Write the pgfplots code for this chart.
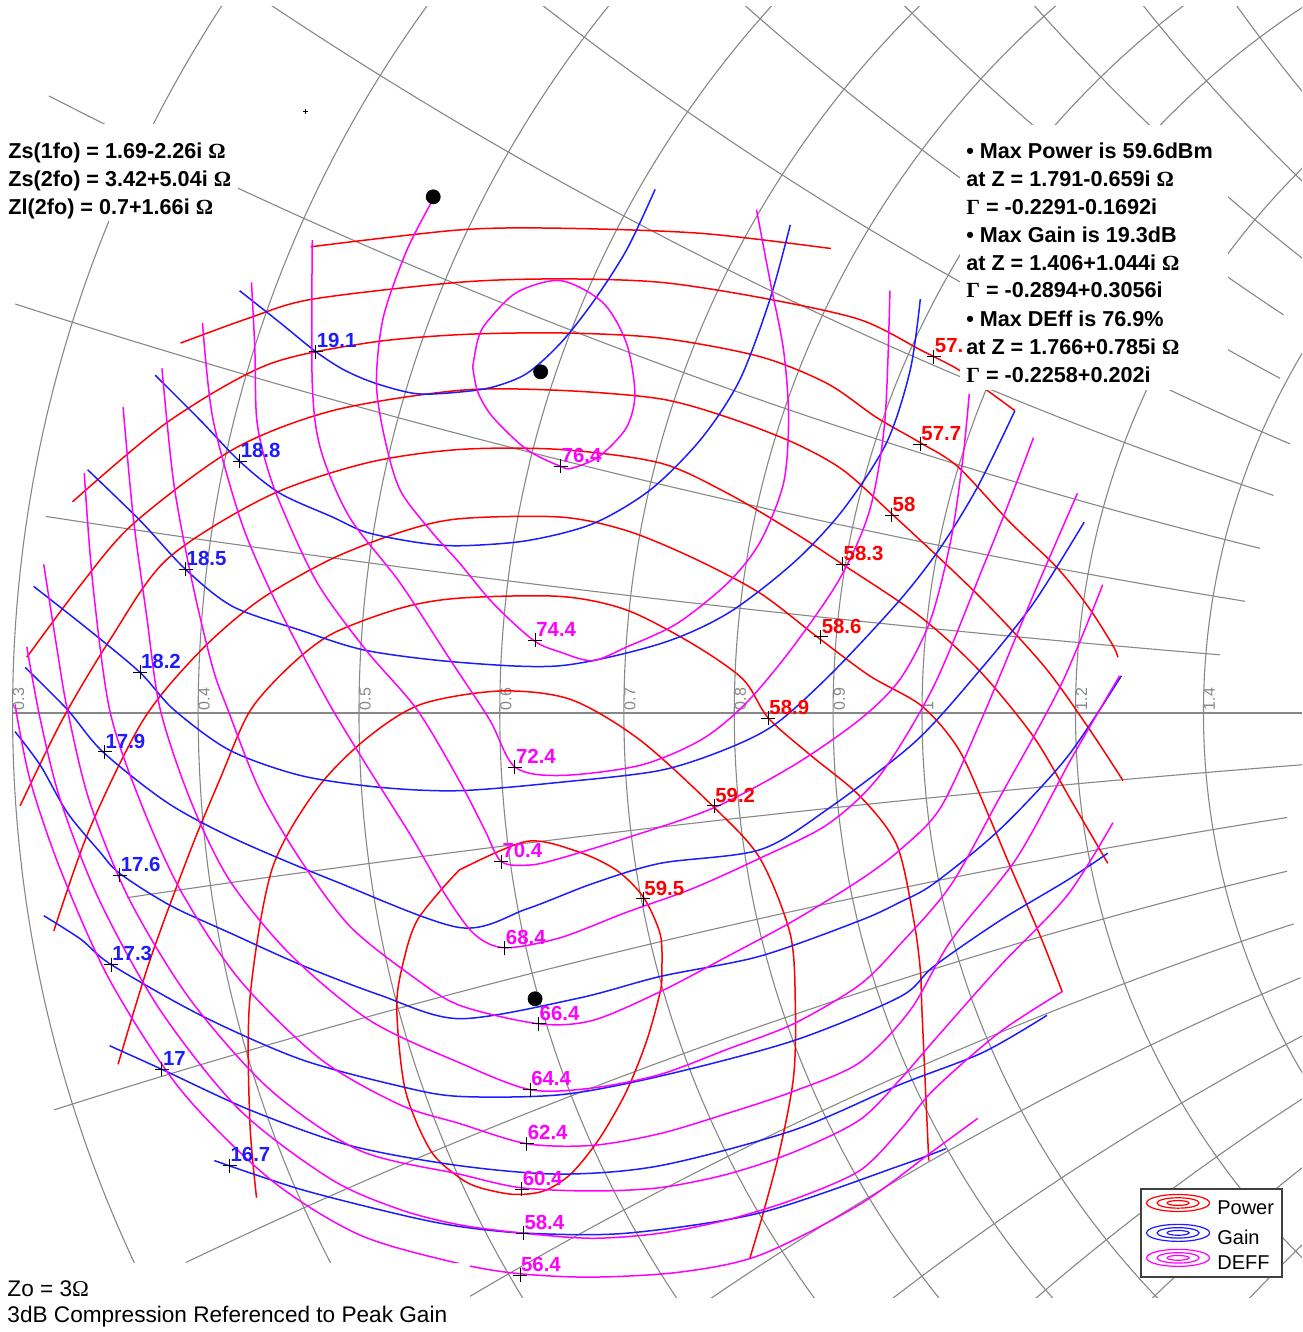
\documentclass[border=0pt]{standalone}
\usepackage{pgfplots}
\pgfplotsset{compat=1.18}
\usepackage{fontspec}
\setmainfont{Liberation Sans}
\newfontfamily\greekserif{Liberation Serif}

\definecolor{pwrred}{RGB}{255,0,0}
\definecolor{gainblue}{RGB}{28,28,255}
\definecolor{deffmag}{RGB}{255,0,255}
\definecolor{gridgray}{RGB}{135,135,135}

\tikzset{gridline/.style={gridgray, line width=0.55pt}}

% constant-reactance arc above the real axis: centre (1,#1), x=#2, from Re(Gamma)=#3 to #4
\newcommand\xarcU[4]{%
  \draw[gridline] (axis cs:1,#1) ++({360-acos((#3-1)*#2)}:{844.5pt*#1})
    arc[start angle={360-acos((#3-1)*#2)}, end angle={360-acos((#4-1)*#2)}, radius={844.5pt*#1}];}
% constant-reactance arc below the real axis: centre (1,-#1), |x|=#2
\newcommand\xarcL[4]{%
  \draw[gridline] (axis cs:1,-#1) ++({acos((#3-1)*#2)}:{844.5pt*#1})
    arc[start angle={acos((#3-1)*#2)}, end angle={acos((#4-1)*#2)}, radius={844.5pt*#1}];}
% constant-resistance circle: centre r/(1+r), radius 1/(1+r) (in pt)
\newcommand\rcirc[2]{\draw[gridline] (axis cs:#1,0) circle[radius=#2];}
\newcommand\rlab[2]{\node[rotate=90, anchor=north west, inner sep=0pt, text=gridgray,
  font=\fontsize{8}{9}\selectfont] at (axis cs:#1,0.0015) {#2};}
% legend symbol: three concentric ellipses
\newcommand\legicon[2]{%
  \draw[#2, line width=0.6pt] (axis cs:0.1516,#1) ellipse[x radius=15.75pt, y radius=4.25pt];
  \draw[#2, line width=0.6pt] (axis cs:0.1516,#1) ellipse[x radius=10.5pt, y radius=2.6pt];
  \draw[#2, line width=0.6pt] (axis cs:0.1516,#1) ellipse[x radius=5.5pt, y radius=1.2pt];}
\newcommand\boxtext[3]{\node[anchor=base west, inner sep=0pt,
  font=\bfseries\fontsize{10.8}{13}\selectfont] at (axis cs:#1,#2) {#3};}

\begin{document}
\begin{tikzpicture}
\path[use as bounding box] (0,0) rectangle (651pt,666pt);
\begin{axis}[
  at={(0,0)}, anchor=south west,
  scale only axis, width=651pt, height=666pt,
  xmin=-0.54589, xmax=0.22498, ymin=-0.36649, ymax=0.42214,
  hide axis,
  pw/.style={pwrred, line width=0.75pt, smooth, no markers},
  ga/.style={gainblue, line width=0.75pt, smooth, no markers},
  de/.style={deffmag, line width=0.75pt, smooth, no markers},
  lab/.style={only marks, mark=+, mark size=3.5pt,
    mark options={black, line width=0.5pt, solid},
    nodes near coords, point meta=explicit symbolic,
    every node near coord/.style={anchor=south west, inner sep=0pt,
      xshift=0.3pt, yshift=1.5pt, font=\bfseries\fontsize{10.2}{12}\selectfont, text=#1}},
]

% ---------------- Smith chart grid ----------------
\begin{scope}
\clip (axis cs:-0.546,0.4180) rectangle (axis cs:0.226,-0.3458);
\rcirc{0.230769}{649.6pt}
\rcirc{0.285714}{603.2pt}
\rcirc{0.333333}{563.0pt}
\rcirc{0.375}{527.8pt}
\rcirc{0.411765}{496.8pt}
\rcirc{0.444444}{469.2pt}
\rcirc{0.473684}{444.5pt}
\rcirc{0.5}{422.25pt}
\rcirc{0.545455}{383.9pt}
\rcirc{0.583333}{351.9pt}
\draw[gridline] (axis cs:-0.5385,0) -- (axis cs:0.226,0);
\xarcU{10}{0.1}{-0.519}{0.176}
\xarcU{5}{0.2}{-0.537}{0.191}
\xarcU{3.33333}{0.3}{-0.517}{0.200}
\xarcU{2.5}{0.4}{-0.40}{0.208}
\xarcU{2}{0.5}{-0.25}{0.218}
\xarcU{1.66667}{0.6}{-0.13}{0.212}
\xarcU{1.42857}{0.7}{-0.03}{0.214}
\xarcU{1.25}{0.8}{0.05}{0.225}
\xarcU{1.11111}{0.9}{0.115}{0.225}
\xarcU{1}{1.0}{0.17}{0.225}
\xarcL{10}{0.1}{-0.471}{0.225}
\xarcL{5}{0.2}{-0.514}{0.216}
\xarcL{3.33333}{0.3}{-0.436}{0.216}
\xarcL{2.5}{0.4}{-0.31}{0.220}
\xarcL{2}{0.5}{-0.16}{0.224}
\xarcL{1.66667}{0.6}{-0.05}{0.225}
\xarcL{1.42857}{0.7}{0.04}{0.225}
\xarcL{1.25}{0.8}{0.11}{0.225}
\xarcL{1.11111}{0.9}{0.17}{0.225}
\end{scope}
\rlab{-0.5385}{0.3}
\rlab{-0.4286}{0.4}
\rlab{-0.3333}{0.5}
\rlab{-0.2500}{0.6}
\rlab{-0.1765}{0.7}
\rlab{-0.1111}{0.8}
\rlab{-0.0526}{0.9}
\rlab{0.0}{1}
\rlab{0.0909}{1.2}
\rlab{0.1667}{1.4}

% ---------------- Power contours (dBm) ----------------
\addplot[pw] coordinates {(-0.362,0.276) (-0.274,0.286) (-0.214,0.287) (-0.131,0.284) (-0.054,0.275)};
\addplot[pw] coordinates {(-0.439,0.219) (-0.398,0.234) (-0.361,0.245) (-0.274,0.255) (-0.214,0.257) (-0.155,0.255) (-0.096,0.246) (-0.037,0.233) (-0.001,0.215) (0.007,0.211) (0.022,0.203) (0.040,0.190) (0.055,0.179)};
\addplot[pw] coordinates {(-0.503,0.125) (-0.447,0.172) (-0.388,0.206) (-0.329,0.219) (-0.274,0.224) (-0.214,0.225) (-0.155,0.222) (-0.096,0.211) (-0.056,0.195) (-0.027,0.175) (-0.001,0.160) (0.021,0.146) (0.052,0.113) (0.080,0.086) (0.099,0.062) (0.113,0.040) (0.116,0.033)};
\addplot[pw] coordinates {(-0.530,0.033) (-0.498,0.076) (-0.467,0.112) (-0.408,0.156) (-0.349,0.179) (-0.274,0.191) (-0.214,0.191) (-0.155,0.186) (-0.115,0.175) (-0.076,0.160) (-0.047,0.144) (-0.018,0.118) (0.033,0.070) (0.072,0.028) (0.098,-0.008) (0.119,-0.040)};
\addplot[pw] coordinates {(-0.534,-0.055) (-0.509,-0.004) (-0.481,0.043) (-0.447,0.091) (-0.388,0.128) (-0.329,0.148) (-0.274,0.156) (-0.214,0.156) (-0.155,0.148) (-0.115,0.130) (-0.076,0.107) (-0.047,0.088) (-0.001,0.057) (0.034,0.025) (0.066,-0.014) (0.089,-0.053) (0.110,-0.089)};
\addplot[pw] coordinates {(-0.514,-0.129) (-0.493,-0.069) (-0.461,-0.004) (-0.427,0.037) (-0.392,0.067) (-0.350,0.091) (-0.309,0.107) (-0.274,0.115) (-0.214,0.116) (-0.175,0.108) (-0.136,0.092) (-0.096,0.071) (-0.062,0.045) (-0.031,0.022) (0.000,0.004) (0.022,-0.022) (0.040,-0.062) (0.054,-0.095) (0.070,-0.132) (0.083,-0.165)};
\addplot[pw] coordinates {(-0.476,-0.208) (-0.457,-0.146) (-0.433,-0.081) (-0.416,-0.040) (-0.398,0.001) (-0.374,0.028) (-0.349,0.047) (-0.309,0.062) (-0.274,0.068) (-0.214,0.069) (-0.175,0.061) (-0.136,0.041) (-0.106,0.020) (-0.091,-0.003) (-0.066,-0.025) (-0.037,-0.049) (-0.015,-0.078) (-0.005,-0.122) (-0.001,-0.152) (0.000,-0.177) (0.004,-0.265)};
\addplot[pw] coordinates {(-0.394,-0.287) (-0.398,-0.241) (-0.398,-0.170) (-0.385,-0.093) (-0.359,-0.046) (-0.330,-0.016) (-0.297,0.005) (-0.250,0.013) (-0.208,0.008) (-0.167,-0.016) (-0.123,-0.056) (-0.096,-0.086) (-0.078,-0.131) (-0.075,-0.173) (-0.076,-0.215) (-0.084,-0.258) (-0.094,-0.296) (-0.102,-0.323)};
\addplot[pw] coordinates {(-0.274,-0.093) (-0.234,-0.076) (-0.204,-0.082) (-0.181,-0.093) (-0.165,-0.109) (-0.155,-0.131) (-0.154,-0.152) (-0.155,-0.165) (-0.163,-0.194) (-0.175,-0.224) (-0.191,-0.252) (-0.208,-0.273) (-0.224,-0.283) (-0.242,-0.285) (-0.262,-0.281) (-0.274,-0.275) (-0.291,-0.259) (-0.306,-0.223) (-0.311,-0.173) (-0.306,-0.143) (-0.299,-0.123) (-0.285,-0.105) (-0.274,-0.093)};

% ---------------- Gain contours (dB) ----------------
\addplot[ga] coordinates {(-0.404,0.250) (-0.380,0.231) (-0.359,0.214) (-0.342,0.203) (-0.323,0.195) (-0.299,0.189) (-0.274,0.190) (-0.254,0.193) (-0.234,0.201) (-0.214,0.219) (-0.195,0.243) (-0.175,0.274) (-0.158,0.310)};
\addplot[ga] coordinates {(-0.454,0.200) (-0.427,0.173) (-0.404,0.149) (-0.380,0.130) (-0.349,0.116) (-0.329,0.107) (-0.299,0.101) (-0.274,0.099) (-0.234,0.102) (-0.195,0.112) (-0.161,0.132) (-0.131,0.162) (-0.108,0.197) (-0.090,0.245) (-0.078,0.289)};
\addplot[ga] coordinates {(-0.494,0.144) (-0.463,0.114) (-0.436,0.085) (-0.408,0.063) (-0.368,0.049) (-0.329,0.037) (-0.274,0.030) (-0.214,0.028) (-0.155,0.041) (-0.115,0.059) (-0.076,0.089) (-0.047,0.120) (-0.021,0.160) (-0.007,0.203) (-0.001,0.245)};
\addplot[ga] coordinates {(-0.526,0.075) (-0.493,0.049) (-0.463,0.024) (-0.443,0.002) (-0.410,-0.022) (-0.368,-0.037) (-0.321,-0.044) (-0.274,-0.046) (-0.214,-0.041) (-0.155,-0.034) (-0.115,-0.021) (-0.086,-0.006) (-0.052,0.025) (-0.013,0.067) (0.011,0.098) (0.033,0.134) (0.055,0.179)};
\addplot[ga] coordinates {(-0.531,0.027) (-0.506,0.002) (-0.485,-0.023) (-0.447,-0.053) (-0.408,-0.074) (-0.349,-0.099) (-0.274,-0.127) (-0.234,-0.116) (-0.195,-0.101) (-0.155,-0.089) (-0.096,-0.081) (-0.056,-0.057) (-0.004,-0.017) (0.034,0.025) (0.066,0.065) (0.096,0.113)};
\addplot[ga] coordinates {(-0.537,-0.011) (-0.522,-0.031) (-0.506,-0.059) (-0.487,-0.082) (-0.475,-0.095) (-0.445,-0.114) (-0.408,-0.131) (-0.368,-0.149) (-0.321,-0.167) (-0.274,-0.181) (-0.204,-0.169) (-0.155,-0.156) (-0.096,-0.144) (-0.037,-0.123) (-0.013,-0.112) (0.007,-0.101) (0.046,-0.069) (0.086,-0.026) (0.118,0.022)};
\addplot[ga] coordinates {(-0.520,-0.120) (-0.498,-0.134) (-0.480,-0.149) (-0.427,-0.179) (-0.368,-0.205) (-0.309,-0.221) (-0.274,-0.227) (-0.214,-0.226) (-0.155,-0.215) (-0.076,-0.194) (-0.013,-0.168) (0.007,-0.150) (0.046,-0.123) (0.086,-0.099) (0.110,-0.083)};
\addplot[ga] coordinates {(-0.481,-0.197) (-0.450,-0.211) (-0.398,-0.235) (-0.339,-0.256) (-0.274,-0.268) (-0.214,-0.273) (-0.155,-0.268) (-0.076,-0.247) (-0.013,-0.220) (0.036,-0.201) (0.074,-0.179)};
\addplot[ga] coordinates {(-0.419,-0.265) (-0.368,-0.282) (-0.309,-0.297) (-0.274,-0.304) (-0.234,-0.308) (-0.175,-0.308) (-0.096,-0.296) (-0.013,-0.268) (0.014,-0.258)};

% ---------------- Drain efficiency contours (%) ----------------
\addplot[de] coordinates {(-0.266,0.205) (-0.263,0.221) (-0.258,0.231) (-0.240,0.249) (-0.214,0.256) (-0.189,0.243) (-0.175,0.219) (-0.170,0.189) (-0.175,0.169) (-0.191,0.152) (-0.207,0.145) (-0.214,0.146) (-0.234,0.156) (-0.254,0.175) (-0.263,0.190) (-0.266,0.205)};
\addplot[de] coordinates {(-0.289,0.305) (-0.305,0.274) (-0.319,0.234) (-0.323,0.195) (-0.318,0.162) (-0.309,0.132) (-0.291,0.108) (-0.274,0.089) (-0.254,0.065) (-0.230,0.043) (-0.214,0.036) (-0.195,0.031) (-0.175,0.039) (-0.145,0.053) (-0.115,0.077) (-0.096,0.101) (-0.082,0.136) (-0.079,0.175) (-0.082,0.215) (-0.090,0.256) (-0.098,0.298)};
\addplot[de] coordinates {(-0.361,0.280) (-0.361,0.195) (-0.356,0.156) (-0.339,0.116) (-0.309,0.077) (-0.279,0.031) (-0.256,-0.004) (-0.241,-0.032) (-0.214,-0.037) (-0.167,-0.031) (-0.131,-0.016) (-0.105,0.005) (-0.078,0.037) (-0.049,0.079) (-0.031,0.120) (-0.022,0.173) (-0.019,0.250)};
\addplot[de] coordinates {(-0.397,0.255) (-0.395,0.215) (-0.394,0.175) (-0.389,0.150) (-0.380,0.124) (-0.358,0.077) (-0.329,0.037) (-0.299,0.002) (-0.274,-0.040) (-0.259,-0.069) (-0.249,-0.088) (-0.232,-0.090) (-0.214,-0.086) (-0.175,-0.074) (-0.123,-0.056) (-0.076,-0.031) (-0.037,-0.004) (-0.013,0.020) (0.005,0.055) (0.017,0.102) (0.024,0.149) (0.028,0.189)};
\addplot[de] coordinates {(-0.426,0.231) (-0.420,0.175) (-0.404,0.116) (-0.388,0.077) (-0.368,0.037) (-0.349,0.002) (-0.327,-0.034) (-0.303,-0.072) (-0.282,-0.108) (-0.265,-0.131) (-0.247,-0.139) (-0.214,-0.133) (-0.175,-0.118) (-0.136,-0.104) (-0.096,-0.086) (-0.056,-0.066) (-0.025,-0.037) (0.007,0.016) (0.036,0.086) (0.052,0.126) (0.066,0.163)};
\addplot[de] coordinates {(-0.450,0.204) (-0.443,0.136) (-0.432,0.077) (-0.420,0.027) (-0.411,0.002) (-0.392,-0.046) (-0.368,-0.087) (-0.339,-0.126) (-0.303,-0.155) (-0.274,-0.173) (-0.227,-0.184) (-0.195,-0.182) (-0.155,-0.165) (-0.115,-0.144) (-0.076,-0.123) (-0.037,-0.099) (-0.013,-0.081) (0.011,-0.056) (0.036,-0.002) (0.066,0.070) (0.092,0.130)};
\addplot[de] coordinates {(-0.473,0.181) (-0.467,0.116) (-0.459,0.057) (-0.451,0.002) (-0.433,-0.052) (-0.410,-0.099) (-0.374,-0.143) (-0.327,-0.182) (-0.274,-0.207) (-0.232,-0.223) (-0.195,-0.222) (-0.155,-0.214) (-0.115,-0.199) (-0.076,-0.184) (-0.037,-0.161) (-0.013,-0.137) (0.017,-0.102) (0.046,-0.050) (0.082,0.016) (0.107,0.076)};
\addplot[de] coordinates {(-0.496,0.142) (-0.491,0.077) (-0.481,0.002) (-0.463,-0.052) (-0.439,-0.105) (-0.404,-0.158) (-0.356,-0.205) (-0.309,-0.232) (-0.274,-0.243) (-0.234,-0.255) (-0.195,-0.256) (-0.155,-0.249) (-0.115,-0.237) (-0.076,-0.224) (-0.037,-0.207) (-0.007,-0.176) (0.017,-0.135) (0.056,-0.086) (0.089,-0.026) (0.117,0.022)};
\addplot[de] coordinates {(-0.520,0.088) (-0.512,0.037) (-0.506,0.002) (-0.493,-0.052) (-0.469,-0.111) (-0.433,-0.170) (-0.386,-0.223) (-0.333,-0.259) (-0.274,-0.273) (-0.238,-0.281) (-0.195,-0.283) (-0.155,-0.281) (-0.115,-0.273) (-0.076,-0.260) (-0.037,-0.241) (-0.013,-0.217) (0.007,-0.194) (0.046,-0.150) (0.086,-0.108) (0.113,-0.065)};
\addplot[de] coordinates {(-0.530,0.039) (-0.522,-0.004) (-0.510,-0.052) (-0.487,-0.111) (-0.451,-0.176) (-0.404,-0.235) (-0.350,-0.276) (-0.309,-0.294) (-0.274,-0.303) (-0.236,-0.308) (-0.195,-0.311) (-0.155,-0.308) (-0.115,-0.300) (-0.076,-0.288) (-0.037,-0.271) (-0.013,-0.247) (0.007,-0.223) (0.046,-0.189) (0.083,-0.165)};
\addplot[de] coordinates {(-0.537,0.005) (-0.528,-0.040) (-0.510,-0.093) (-0.481,-0.158) (-0.439,-0.223) (-0.386,-0.276) (-0.333,-0.309) (-0.274,-0.326) (-0.238,-0.332) (-0.195,-0.334) (-0.143,-0.331) (-0.096,-0.321) (-0.037,-0.291) (0.007,-0.259) (0.033,-0.240)};

% ---------------- contour value markers ----------------
\addplot[lab=pwrred] coordinates {(0.007,0.211)[57.] (-0.001,0.159)[57.7] (-0.018,0.117)[58] (-0.047,0.088)[58.3] (-0.060,0.045)[58.6] (-0.091,-0.003)[58.9] (-0.123,-0.055)[59.2] (-0.165,-0.110)[59.5]};
\addplot[lab=gainblue] coordinates {(-0.359,0.214)[19.1] (-0.404,0.149)[18.8] (-0.436,0.085)[18.5] (-0.463,0.024)[18.2] (-0.484,-0.023)[17.9] (-0.475,-0.096)[17.6] (-0.480,-0.149)[17.3] (-0.450,-0.211)[17] (-0.410,-0.268)[16.7]};
\addplot[lab=deffmag] coordinates {(-0.214,0.146)[76.4] (-0.229,0.043)[74.4] (-0.241,-0.032)[72.4] (-0.249,-0.088)[70.4] (-0.247,-0.139)[68.4] (-0.227,-0.184)[66.4] (-0.232,-0.223)[64.4] (-0.234,-0.255)[62.4] (-0.237,-0.282)[60.4] (-0.236,-0.308)[58.4] (-0.238,-0.333)[56.4]};

% optimum points: max gain, max drain efficiency, max power
\addplot[only marks, mark=*, mark size=3.5pt, black] coordinates {(-0.2894,0.3056) (-0.2258,0.2020) (-0.2291,-0.1692)};
\addplot[only marks, mark=+, mark size=1.3pt, black, mark options={line width=0.5pt}] coordinates {(-0.365,0.356)};

% ---------------- annotation boxes ----------------
\fill[white] (axis cs:-0.5459,0.3487) rectangle (axis cs:-0.4049,0.2913);
\fill[white] (axis cs:0.0225,0.3481) rectangle (axis cs:0.1812,0.1912);
\fill[white] (axis cs:-0.5459,-0.3257) rectangle (axis cs:-0.2676,-0.3665);
\boxtext{-0.5411}{0.3285}{Zs(1fo) = 1.69-2.26i {\greekserif Ω}}
\boxtext{-0.5411}{0.3120}{Zs(2fo) = 3.42+5.04i {\greekserif Ω}}
\boxtext{-0.5411}{0.2954}{Zl(2fo) = 0.7+1.66i {\greekserif Ω}}
\boxtext{0.0260}{0.3285}{• Max Power is 59.6dBm}
\boxtext{0.0260}{0.3120}{at Z = 1.791-0.659i {\greekserif Ω}}
\boxtext{0.0260}{0.2954}{{\greekserif Γ} = -0.2291-0.1692i}
\boxtext{0.0260}{0.2788}{• Max Gain is 19.3dB}
\boxtext{0.0260}{0.2622}{at Z = 1.406+1.044i {\greekserif Ω}}
\boxtext{0.0260}{0.2457}{{\greekserif Γ} = -0.2894+0.3056i}
\boxtext{0.0260}{0.2291}{• Max DEff is 76.9\%}
\boxtext{0.0260}{0.2125}{at Z = 1.766+0.785i {\greekserif Ω}}
\boxtext{0.0260}{0.1959}{{\greekserif Γ} = -0.2258+0.202i}
\node[anchor=base west, inner sep=0pt, font=\fontsize{11.3}{13}\selectfont] at (axis cs:-0.5417,-0.3457) {Zo = 3{\greekserif Ω}};
\node[anchor=base west, inner sep=0pt, font=\fontsize{11.3}{13}\selectfont] at (axis cs:-0.5417,-0.3611) {3dB Compression Referenced to Peak Gain};

% ---------------- legend ----------------
\draw[black!75, line width=0.7pt, fill=white] (axis cs:0.1296,-0.2818) rectangle (axis cs:0.2131,-0.3339);
\legicon{-0.2901}{pwrred}
\legicon{-0.3078}{gainblue}
\legicon{-0.3226}{deffmag}
\node[anchor=base west, inner sep=0pt, font=\fontsize{10}{12}\selectfont] at (axis cs:0.1746,-0.2972) {Power};
\node[anchor=base west, inner sep=0pt, font=\fontsize{10}{12}\selectfont] at (axis cs:0.1746,-0.3149) {Gain};
\node[anchor=base west, inner sep=0pt, font=\fontsize{10}{12}\selectfont] at (axis cs:0.1746,-0.3297) {DEFF};
\end{axis}
\end{tikzpicture}
\end{document}
